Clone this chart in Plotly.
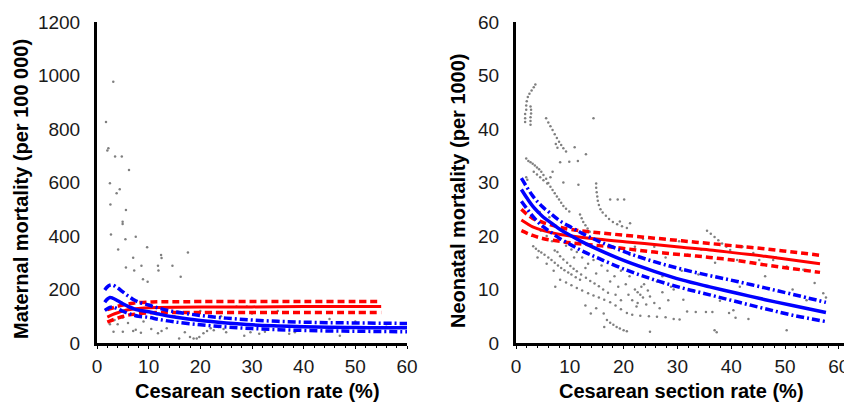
import plotly.graph_objects as go

# ---------------- Left panel: maternal mortality ----------------
mat_pts_x = [3.15, 1.74, 2.2, 2.0, 3.5, 4.8, 6.2, 2.5, 4.4, 3.8, 2.6, 5.6, 4.96, 4.96, 2.7, 7.5, 5.5, 9.7,
             4.1, 17.6, 12.4, 12.5, 7.0, 14.6, 11.8, 8.6, 5.6, 7.2, 11.9, 16.2, 8.9, 9.8,
             3.2, 5.0, 7.0, 7.5, 8.5, 10.5, 11.8, 12.5, 13.5, 15.9, 17.0, 18.0, 18.7, 19.3, 19.8, 20.6,
             21.3, 22.0, 22.6, 23.5, 24.5, 25.0, 28.5, 29.7, 31.4, 32.5, 37.2, 38.3, 39.2, 47.0,
             3.4, 2.5, 4.0, 5.0, 6.0, 9.0, 12.0, 15.0, 20.0, 27.0, 29.0, 39.6, 43.0, 35.0, 50.0, 56.0,
             45.0, 30.0, 24.0]
mat_pts_y = [977, 826, 728, 720, 697, 697, 647, 597, 575, 560, 518, 497, 453, 445, 406, 397, 388, 358,
             350, 338, 329, 318, 319, 289, 289, 289, 282, 271, 271, 248, 238, 229,
             42, 42, 45, 50, 38, 52, 36, 45, 55, 17, 40, 22, 17, 17, 22, 36,
             45, 55, 48, 60, 52, 40, 27, 40, 35, 42, 35, 40, 48, 27,
             86, 70, 70, 95, 75, 80, 110, 100, 120, 136, 136, 136, 154, 120, 80, 70,
             90, 110, 100]

mat_blue_x = [1.5, 2, 2.5, 3, 4, 5, 6, 7, 8, 10, 12, 15, 20, 25, 30, 35, 40, 45, 50, 55, 60]
mat_blue_mid = [152, 164, 170, 168, 158, 147, 137, 129, 123, 117, 108, 97, 84, 75, 68, 64, 61, 59, 58, 57, 57]
mat_blue_up = [198, 210, 216, 217, 206, 191, 176, 163, 153, 142, 130, 117, 103, 93, 86, 81, 78, 76, 75, 74, 73]
mat_blue_lo = [122, 128, 133, 135, 128, 119, 111, 105, 100, 96, 88, 79, 68, 60, 54, 50, 47, 45, 44, 43, 42]

mat_red_x = [2, 3, 4, 5, 6, 7, 8, 10, 12, 15, 20, 30, 40, 50, 55]
mat_red_mid = [97, 106, 113, 119, 124, 127, 129, 132, 133, 134, 135, 135, 136, 136, 136]
mat_red_up = [125, 131, 137, 142, 146, 149, 151, 153, 154, 154, 155, 155, 155, 155, 155]
mat_red_lo = [78, 86, 93, 99, 104, 107, 110, 113, 114, 114, 114, 114, 114, 114, 114]

# ---------------- Right panel: neonatal mortality ----------------
neo_pts = [
    (1.7, 41.3), (1.7, 42.0), (1.7, 42.8), (1.9, 43.6), (1.9, 44.4), (2.0, 45.2), (2.2, 46.0), (2.5, 46.6),
    (2.9, 47.2), (3.3, 47.8), (3.6, 48.3),
    (2.7, 40.8), (2.7, 41.5), (2.7, 42.2), (2.8, 42.9), (2.8, 43.6), (2.7, 44.2),
    (5.6, 42.0), (6.0, 41.2), (6.4, 40.5), (6.8, 39.8), (7.2, 39.0), (7.6, 38.3), (8.0, 37.6), (8.4, 37.0),
    (8.8, 36.4), (9.3, 35.8), (7.4, 37.2), (7.7, 36.5), (10.9, 36.6), (13.0, 35.3), (8.2, 33.8), (9.9, 33.9),
    (11.5, 34.0), (14.4, 42.0),
    (1.9, 34.5), (2.3, 34.0), (2.7, 33.8), (3.1, 33.5), (3.5, 33.2), (3.9, 32.8), (4.3, 32.5), (4.7, 32.0),
    (5.1, 31.4), (5.6, 30.7), (6.0, 29.9), (6.4, 29.2), (6.8, 28.6), (7.2, 28.0), (7.6, 27.4), (8.0, 26.8),
    (8.4, 26.2), (8.8, 25.6), (9.3, 25.1), (9.9, 24.6),
    (3.3, 32.0), (3.9, 31.5), (4.5, 31.0), (5.1, 30.4), (5.8, 29.8), (6.4, 31.0), (6.8, 32.0), (8.8, 30.0),
    (1.9, 31.0), (2.1, 30.5), (11.6, 29.6),
    (14.9, 29.8), (14.9, 29.0), (15.0, 28.2), (15.1, 27.4), (15.2, 26.6), (15.4, 25.8), (15.7, 25.0),
    (16.1, 24.4), (16.7, 23.8), (17.3, 23.2), (18.0, 22.6), (18.8, 22.2), (19.7, 21.8), (20.6, 21.5),
    (11.9, 24.0), (12.2, 23.3), (12.5, 22.6), (12.9, 22.0), (13.3, 21.4), (13.7, 20.8),
    (17.5, 26.8), (18.9, 26.8), (20.1, 26.8), (19.3, 22.7), (21.2, 22.4),
    (35.5, 21.0), (36.2, 20.4), (36.9, 19.8), (37.6, 19.2), (38.3, 18.6), (39.1, 18.0), (39.8, 17.4),
    (44.1, 16.8), (47.8, 15.5), (50.3, 14.3), (53.4, 13.7), (57.1, 9.3), (55.5, 11.2), (48.3, 16.0),
    (45.2, 15.5), (42.1, 18.0), (37.3, 12.3), (40.4, 11.7), (37.9, 7.9), (40.4, 6.1), (39.6, 5.6),
    (40.8, 4.7), (36.9, 2.4), (37.3, 2.0), (50.3, 2.4), (31.8, 5.9), (33.4, 5.8), (35.3, 5.8), (36.5, 5.8),
    (31.1, 8.1), (28.8, 10.5), (27.2, 12.5), (30.8, 13.5), (33.9, 12.8), (37.0, 15.0), (41.1, 15.5),
    (46.3, 12.5), (51.4, 10.0), (54.0, 8.0), (57.6, 8.5), (43.2, 4.5), (41.6, 10.5), (34.4, 17.5),
    (31.9, 16.5), (30.3, 19.0), (25.7, 18.0), (27.8, 16.0), (23.6, 19.5), (22.1, 18.0), (21.1, 16.5),
    (3.2, 18.1), (3.7, 17.6), (4.2, 17.2), (4.7, 16.9), (5.3, 16.5), (6.0, 16.0), (6.6, 15.5), (7.2, 15.0),
    (7.8, 14.5), (8.4, 14.0), (9.0, 13.6), (9.7, 13.2), (10.3, 12.8), (11.1, 12.3), (11.9, 11.8),
    (7.7, 17.0), (8.2, 16.2), (8.8, 15.6), (9.5, 15.0), (10.1, 14.4), (10.7, 13.9), (11.3, 13.4), (12.1, 12.8),
    (13.0, 12.2), (13.8, 11.6), (14.6, 11.1), (15.4, 10.6), (16.2, 10.0), (17.1, 9.4),
    (8.2, 11.8), (9.3, 11.3), (10.3, 10.8), (11.3, 10.3), (12.3, 9.8), (13.4, 9.3), (14.4, 8.9), (15.4, 8.5),
    (16.4, 8.1), (17.5, 7.6), (18.5, 7.0), (19.5, 6.3), (20.6, 5.6), (21.6, 5.3), (23.1, 5.1), (24.7, 5.0),
    (26.2, 4.9), (27.8, 4.8), (29.3, 4.5), (30.4, 4.4),
    (16.9, 4.3), (17.5, 3.8), (18.1, 3.4), (18.7, 3.0), (19.3, 2.7), (20.0, 2.4), (20.6, 2.2),
    (7.3, 10.5), (24.9, 2.1), (16.4, 3.0), (16.3, 5.5),
    (22.1, 10.0), (22.6, 9.5), (23.1, 9.0), (23.6, 8.5), (23.3, 10.5), (23.8, 11.0), (24.5, 9.8), (24.9, 8.7),
    (22.6, 7.5), (22.4, 6.8), (24.2, 7.2), (21.6, 8.0), (20.9, 9.0), (20.4, 11.0), (19.0, 10.5), (18.3, 12.5),
    (19.5, 13.5), (21.1, 12.5), (17.0, 13.5), (15.9, 14.5), (14.4, 15.5), (13.4, 14.8), (12.3, 16.0),
    (11.3, 17.0), (10.3, 17.5), (9.3, 18.2), (6.7, 19.0), (5.7, 20.0), (4.6, 21.0), (5.1, 22.5), (4.4, 24.5),
    (4.9, 25.5), (6.2, 23.5), (10.8, 16.0), (12.9, 14.0), (14.9, 13.0), (17.5, 11.5), (18.5, 9.0), (19.5, 8.0),
    (26.2, 11.5), (27.2, 9.5), (28.3, 8.0), (29.3, 10.0), (25.7, 7.5), (26.7, 6.5), (14.9, 6.5), (12.9, 7.0),
    (13.9, 5.5), (7.0, 13.5), (5.7, 14.8), (4.0, 16.0), (7.2, 17.3),
]
neo_pts_x = [p[0] for p in neo_pts]
neo_pts_y = [p[1] for p in neo_pts]

neo_blue_x = [1.0, 2.1, 3.1, 4.1, 5.1, 6.2, 8.2, 10.3, 12.3, 15.4, 20.6, 25.7, 30.8, 36.0, 41.1, 46.3, 51.4, 57.6]
neo_blue_mid = [28.7, 27.0, 25.6, 24.5, 23.5, 22.7, 21.2, 20.0, 18.9, 17.4, 15.2, 13.4, 11.8, 10.5, 9.3, 8.1, 7.0, 5.7]
neo_blue_up = [30.8, 29.0, 27.5, 26.3, 25.3, 24.4, 22.8, 21.6, 20.5, 19.0, 16.9, 15.2, 13.8, 12.6, 11.5, 10.3, 9.1, 7.6]
neo_blue_lo = [26.5, 25.0, 23.7, 22.6, 21.7, 20.9, 19.5, 18.3, 17.2, 15.8, 13.6, 11.8, 10.3, 9.0, 7.7, 6.4, 5.2, 4.0]

neo_red_x = [1.0, 2.1, 3.1, 5.1, 8.2, 10.3, 15.4, 20.6, 25.7, 30.8, 36.0, 41.1, 46.3, 51.4, 56.5]
neo_red_mid = [23.0, 22.3, 21.7, 21.0, 20.3, 20.0, 19.4, 18.9, 18.4, 17.9, 17.4, 16.8, 16.2, 15.5, 14.8]
neo_red_up = [25.0, 24.0, 23.3, 22.5, 21.6, 21.2, 20.6, 20.1, 19.6, 19.1, 18.6, 18.1, 17.6, 17.0, 16.4]
neo_red_lo = [21.0, 20.5, 20.1, 19.5, 19.0, 18.7, 18.2, 17.6, 17.0, 16.5, 16.0, 15.4, 14.6, 13.9, 13.2]

x_ticks = [0, 10, 20, 30, 40, 50, 60]
mat_y_ticks = [0, 200, 400, 600, 800, 1000, 1200]
neo_y_ticks = [0, 10, 20, 30, 40, 50, 60]

RED = "#ff0000"
BLUE = "#0000ff"
GREY = "#7f7f7f"
DASH = "7px,4px"
DASHDOT = "8px,3px,2px,3px"

fig = go.Figure()


def add_panel(xa, ya, px, py, bx, bmid, bup, blo, rx, rmid, rup, rlo):
    fig.add_trace(go.Scatter(x=px, y=py, mode="markers", xaxis=xa, yaxis=ya,
                             marker=dict(size=2.5, color=GREY), showlegend=False, hoverinfo="skip"))
    for yy in (rup, rlo):
        fig.add_trace(go.Scatter(x=rx, y=yy, mode="lines", xaxis=xa, yaxis=ya, line_shape="spline",
                                 line=dict(color=RED, width=3.5, dash=DASH), showlegend=False))
    fig.add_trace(go.Scatter(x=rx, y=rmid, mode="lines", xaxis=xa, yaxis=ya, line_shape="spline",
                             line=dict(color=RED, width=3), showlegend=False))
    for yy in (bup, blo):
        fig.add_trace(go.Scatter(x=bx, y=yy, mode="lines", xaxis=xa, yaxis=ya, line_shape="spline",
                                 line=dict(color=BLUE, width=3.5, dash=DASHDOT), showlegend=False))
    fig.add_trace(go.Scatter(x=bx, y=bmid, mode="lines", xaxis=xa, yaxis=ya, line_shape="spline",
                             line=dict(color=BLUE, width=3.5), showlegend=False))


add_panel("x", "y", mat_pts_x, mat_pts_y, mat_blue_x, mat_blue_mid, mat_blue_up, mat_blue_lo,
          mat_red_x, mat_red_mid, mat_red_up, mat_red_lo)
add_panel("x2", "y2", neo_pts_x, neo_pts_y, neo_blue_x, neo_blue_mid, neo_blue_up, neo_blue_lo,
          neo_red_x, neo_red_mid, neo_red_up, neo_red_lo)

# page body has an 8px margin, so the figure is 8px smaller and everything shifted by 8px
OFF = 8
W, H = 852 - OFF, 404 - OFF
FONT = "Liberation Sans, Arial, sans-serif"
tickfont = dict(family=FONT, size=19, color="#1a1a1a")
titlefont = dict(family=FONT, size=20, color="black")


def px_x(v):
    return (v - OFF) / W


def px_y(v):
    return (H - (v - OFF)) / H


common_x = dict(tickvals=x_ticks, showline=True, linewidth=3, linecolor="black",
                showgrid=False, zeroline=False, ticks="outside", ticklen=3, tickwidth=1,
                tickcolor="black", tickfont=tickfont, fixedrange=True, automargin=False,
                ticklabelstandoff=1,
                minor=dict(ticks="outside", ticklen=2, dtick=2, tickcolor="black"))
common_y = dict(showline=True, linewidth=3, linecolor="black", showgrid=False, zeroline=False,
                ticks="", tickfont=tickfont, fixedrange=True, automargin=False, ticklabelstandoff=10)

y_dom = [px_y(343), px_y(22)]
fig.update_layout(
    template="none",
    width=W, height=H, margin=dict(l=0, r=0, t=0, b=0),
    paper_bgcolor="white", plot_bgcolor="white", showlegend=False,
    xaxis=dict(domain=[px_x(97), px_x(407)], anchor="y", range=[0, 60], **common_x),
    yaxis=dict(domain=y_dom, anchor="x", range=[0, 1200], tickvals=mat_y_ticks, **common_y),
    xaxis2=dict(domain=[px_x(516), px_x(848)], anchor="y2", range=[0, 61.7], **common_x),
    yaxis2=dict(domain=y_dom, anchor="x2", range=[0, 60], tickvals=neo_y_ticks, **common_y),
    annotations=[
        dict(text="<b>Cesarean section rate (%)</b>", x=px_x(257), y=px_y(391), xref="paper", yref="paper",
             xanchor="center", yanchor="middle", showarrow=False, font=titlefont),
        dict(text="<b>Cesarean section rate (%)</b>", x=px_x(681), y=px_y(391), xref="paper", yref="paper",
             xanchor="center", yanchor="middle", showarrow=False, font=titlefont),
        dict(text="<b>Maternal mortality (per 100 000)</b>", x=px_x(21), y=px_y(189), xref="paper",
             yref="paper", xanchor="center", yanchor="middle", showarrow=False, textangle=-90, font=titlefont),
        dict(text="<b>Neonatal mortality (per 1000)</b>", x=px_x(458), y=px_y(191), xref="paper",
             yref="paper", xanchor="center", yanchor="middle", showarrow=False, textangle=-90, font=titlefont),
    ],
)

fig.write_html("out.html")
